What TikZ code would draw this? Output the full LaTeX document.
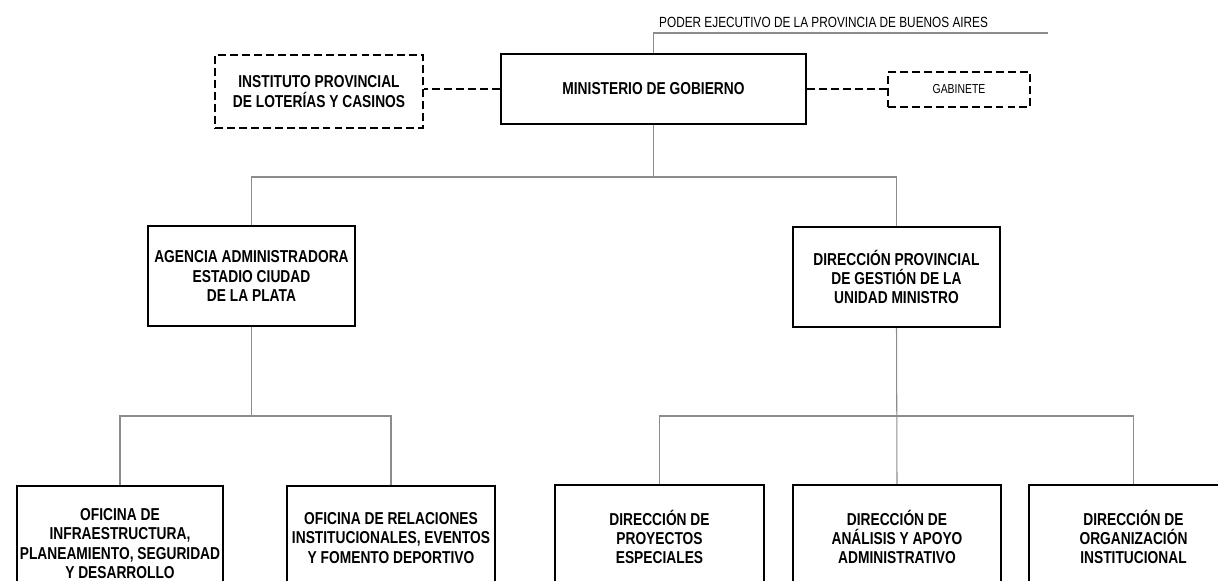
\documentclass[tikz,border=0pt]{standalone}
\usepackage{fontspec}
\setmainfont[FakeStretch=0.8]{Liberation Sans}
\usepackage{tikz}
\usetikzlibrary{positioning}

\begin{document}
\begin{tikzpicture}[
  unidad/.style={draw,line width=1.2pt,align=center,inner sep=0pt,
    font=\bfseries\fontsize{9.8}{11}\selectfont},
  externa/.style={draw,line width=1.4pt,dash pattern=on 4.5pt off 2.3pt,align=center,inner sep=0pt},
  enlace/.style={line width=1.4pt,dash pattern=on 4.5pt off 2.3pt},
  conn/.style={black!45,line width=0.6pt}
]
\useasboundingbox (0,0) rectangle (24.36,-11.6);

\coordinate (bus1) at (0,-3.54);
\coordinate (bus2) at (0,-8.32);
\coordinate (poderend) at (20.96,-0.66);

\node[anchor=west,font=\fontsize{8.4}{9.6}\selectfont] (poder) at (13.06,-0.45) {PODER EJECUTIVO DE LA PROVINCIA DE BUENOS AIRES};

\node[unidad,minimum width=6.1cm,minimum height=1.4cm] (ministerio) at (13.07,-1.78) {MINISTERIO DE GOBIERNO};
\node[externa,minimum width=4.16cm,minimum height=1.46cm,font=\bfseries\fontsize{9.8}{11}\selectfont] (instituto) at (6.38,-1.83) {INSTITUTO PROVINCIAL\\DE LOTERÍAS Y CASINOS};
\node[externa,minimum width=2.84cm,minimum height=0.7cm,font=\fontsize{7.4}{8.4}\selectfont] (gabinete) at (19.18,-1.79) {GABINETE};

\draw[conn] (ministerio.north) |- (poderend);
\draw[enlace] (ministerio.west) -- (ministerio.west -| instituto.east);
\draw[enlace] (ministerio.east) -- (ministerio.east -| gabinete.west);

\node[unidad,minimum width=4.14cm,minimum height=2cm] (agencia) at (5.03,-5.52) {AGENCIA ADMINISTRADORA\\ESTADIO CIUDAD\\DE LA PLATA};
\node[unidad,minimum width=4.14cm,minimum height=2cm] (dirprov) at (17.93,-5.54) {DIRECCIÓN PROVINCIAL\\DE GESTIÓN DE LA\\UNIDAD MINISTRO};

\draw[conn] (ministerio.south) -- (ministerio.south |- bus1);
\draw[conn] (agencia.north) -- (agencia.north |- bus1) -- (dirprov.north |- bus1) -- (dirprov.north);

\node[unidad,minimum width=4.12cm,minimum height=2.3cm] (infra) at (2.40,-10.87) {OFICINA DE\\INFRAESTRUCTURA,\\PLANEAMIENTO, SEGURIDAD\\Y DESARROLLO};
\node[unidad,minimum width=4.16cm,minimum height=2.08cm] (relaciones) at (7.82,-10.76) {OFICINA DE RELACIONES\\INSTITUCIONALES, EVENTOS\\Y FOMENTO DEPORTIVO};

\draw[conn] (agencia.south) -- (agencia.south |- bus2);
\draw[conn] (infra.north) -- (infra.north |- bus2) -- (relaciones.north |- bus2) -- (relaciones.north);

\node[unidad,minimum width=4.18cm,minimum height=2.08cm] (proyectos) at (13.19,-10.74) {DIRECCIÓN DE\\PROYECTOS\\ESPECIALES};
\node[unidad,minimum width=4.16cm,minimum height=2.08cm] (analisis) at (17.94,-10.74) {DIRECCIÓN DE\\ANÁLISIS Y APOYO\\ADMINISTRATIVO};
\node[unidad,minimum width=4.18cm,minimum height=2.08cm] (organizacion) at (22.67,-10.74) {DIRECCIÓN DE\\ORGANIZACIÓN\\INSTITUCIONAL};

\draw[conn] (dirprov.south) -- (analisis.north);
\draw[conn] (proyectos.north) -- (proyectos.north |- bus2) -- (organizacion.north |- bus2) -- (organizacion.north);

\end{tikzpicture}
\end{document}
